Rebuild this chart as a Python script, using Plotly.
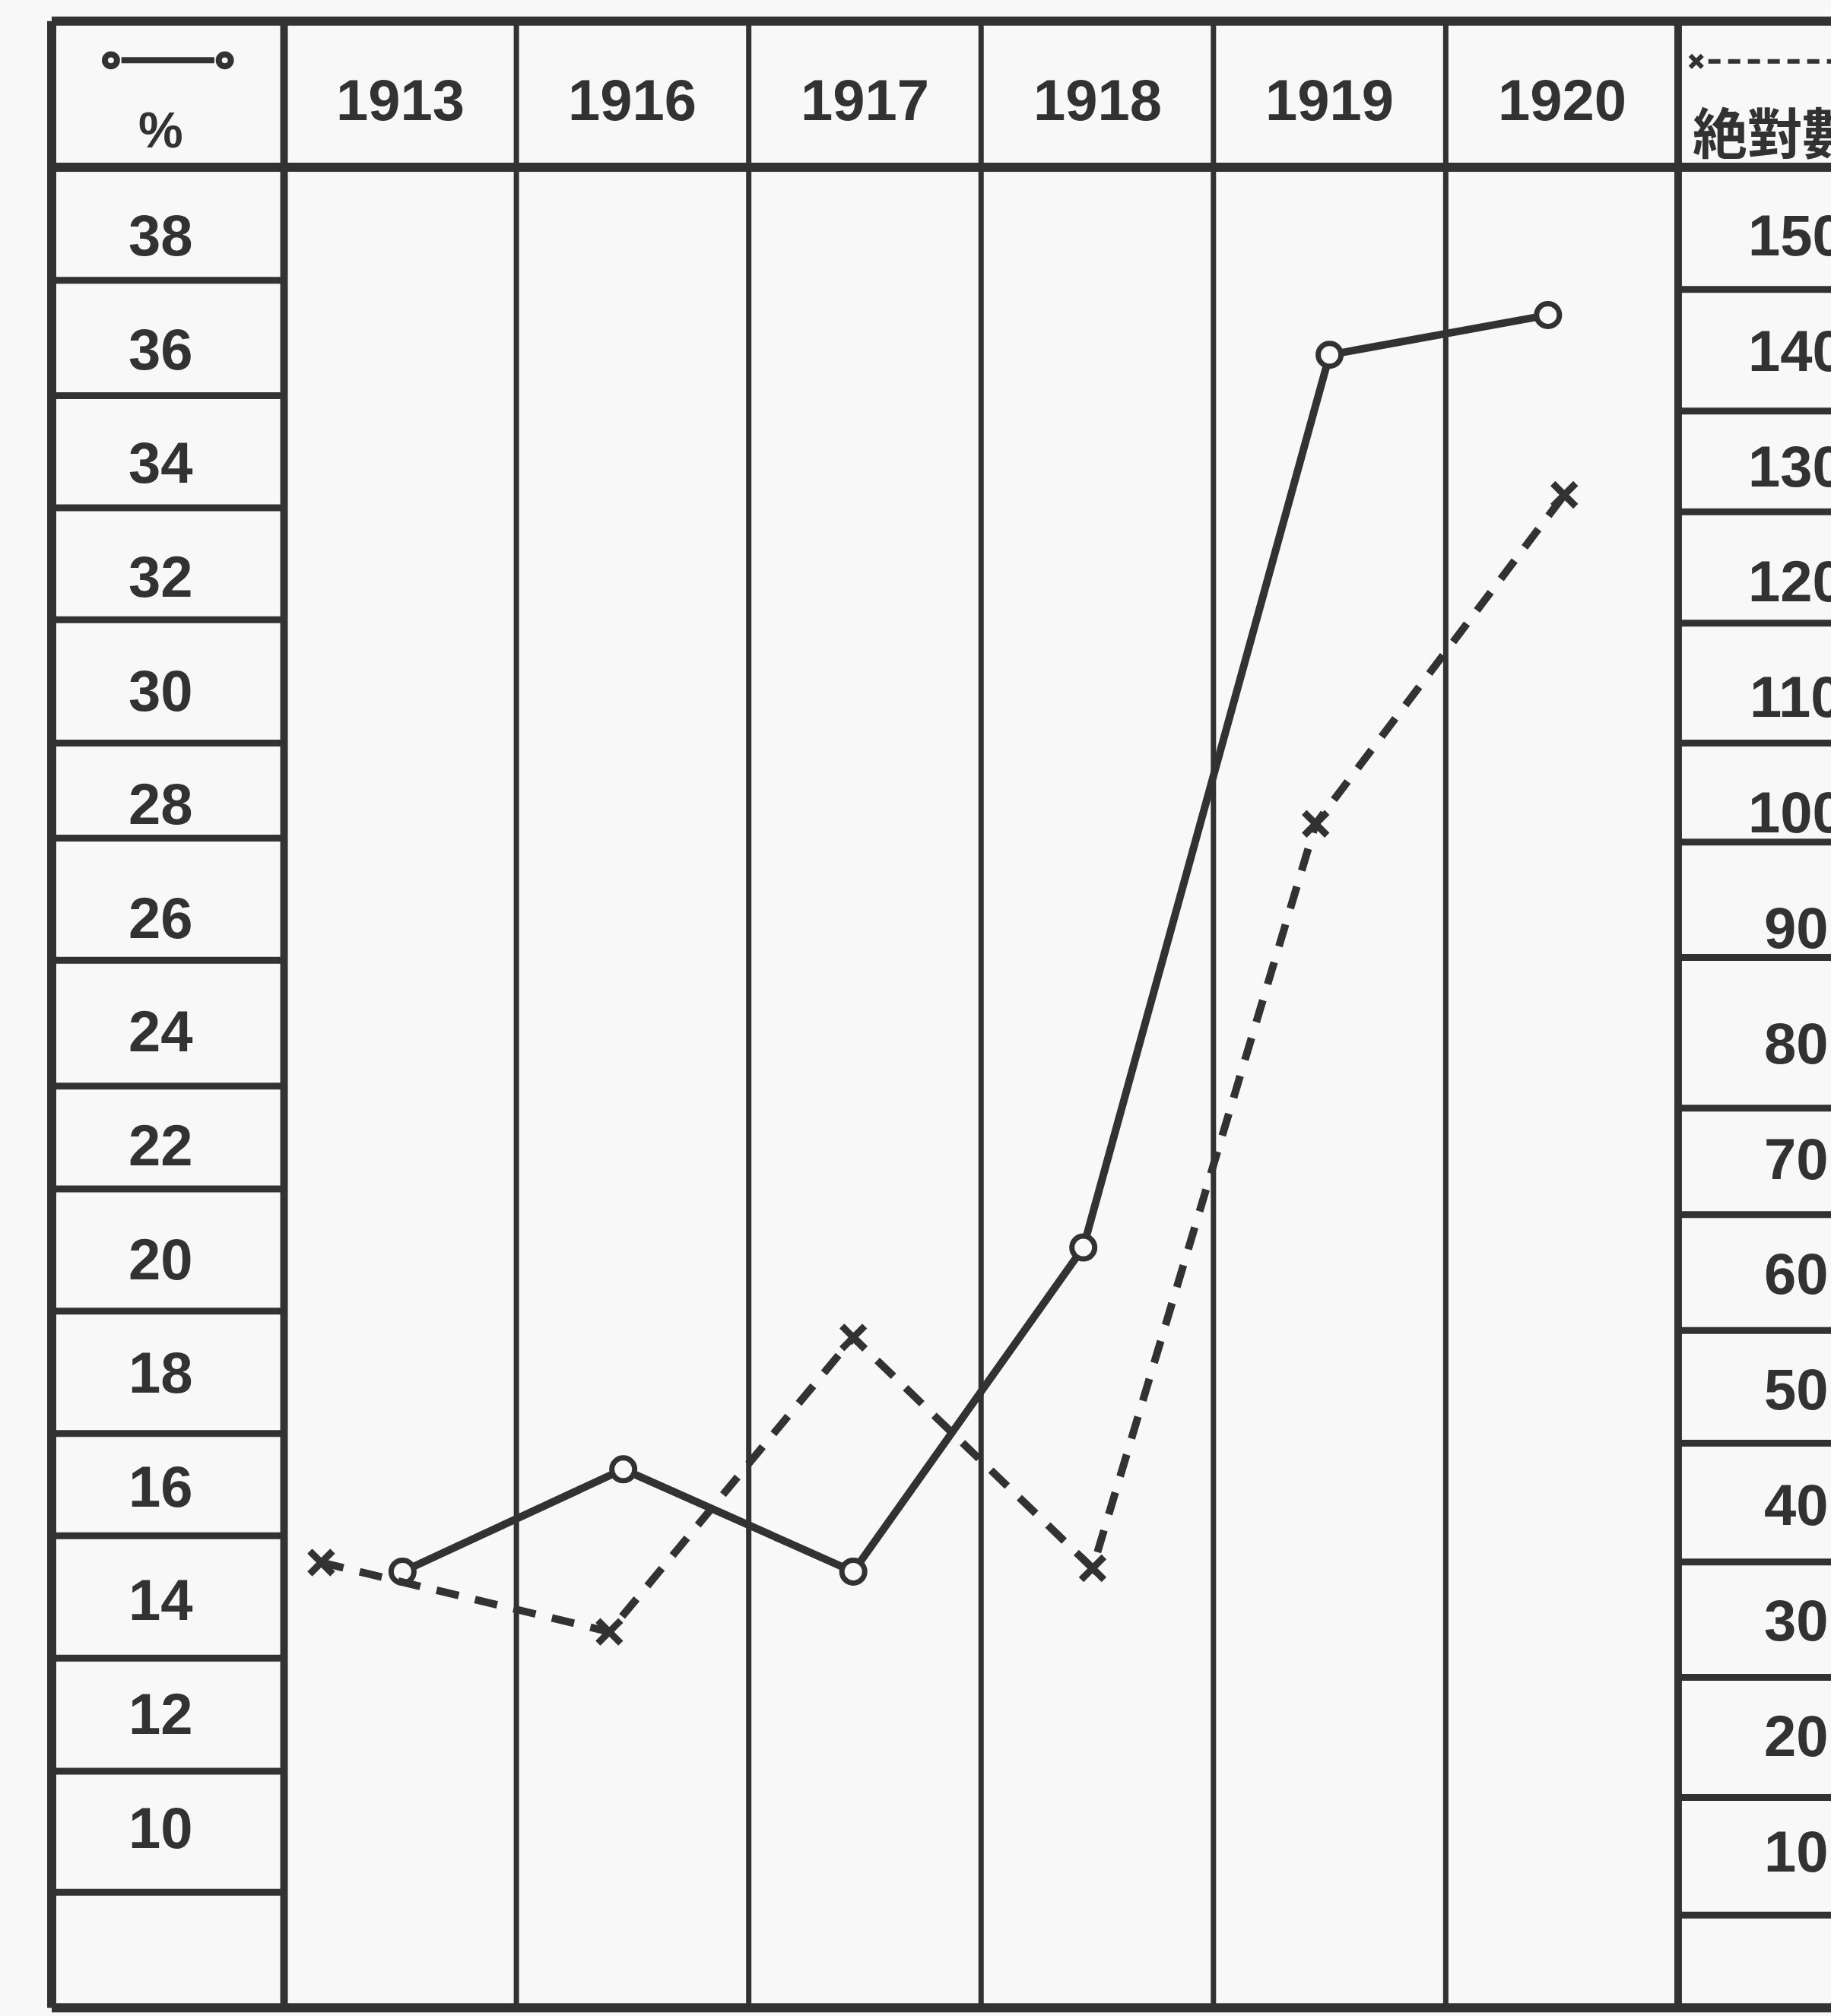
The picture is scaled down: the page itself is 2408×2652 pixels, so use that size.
import plotly.graph_objects as go

# ---------------- data ----------------
years = ["1913", "1916", "1917", "1918", "1919", "1920"]
pct_values = [14.5, 16.3, 14.5, 20.2, 35.9, 36.6]          # solid line, left scale (%)
abs_values = [35, 29, 54.5, 34.5, 99, 127.5]               # dashed line, right scale (absolute)
pct_ticks = [38, 36, 34, 32, 30, 28, 26, 24, 22, 20, 18, 16, 14, 12, 10]
abs_ticks = [150, 140, 130, 120, 110, 100, 90, 80, 70, 60, 50, 40, 30, 20, 10]
pct_header = "%"
abs_header = "絶對數"

# ---------------- style ----------------
INK = "#323232"
BG = "#f8f8f8"
NUM_FONT = "Liberation Sans"
CJK_FONT = "Noto Sans CJK JP"
# small horizontal nudges of the hand-plotted marks inside each year column
pct_nudge = [0.01, -0.04, -0.05, -0.06, 0.0, -0.06]
abs_nudge = [-0.34, -0.10, -0.05, -0.02, -0.06, 0.01]

X_RANGE = [-1.7225, 6.158]
Y_RANGE = [6.685, 42.14]
Y2_RANGE = [-4.29, 170.38]

# table frame (in axis units)
LEFT, DIV_L, DIV_R, FAR = -1.5, -0.5, len(years) - 0.5, 6.4
TOP, HEAD, BOTTOM = 41.77, 39.2, 6.83
left_rules = [37.21, 35.18, 33.21, 31.24, 29.07, 27.40, 25.25, 23.04, 21.23,
              19.08, 16.93, 15.13, 12.98, 10.99, 8.86]
right_rules = [37.05, 34.91, 33.14, 31.18, 29.07, 27.33, 25.30, 22.65, 20.78,
               18.74, 16.76, 14.67, 12.64, 10.53, 8.46]

idx = list(range(len(years)))
pct_x = [i + d for i, d in zip(idx, pct_nudge)]
abs_x = [i + d for i, d in zip(idx, abs_nudge)]

fig = go.Figure()

fig.add_trace(go.Scatter(
    x=abs_x, y=abs_values, yaxis="y2", mode="lines+markers",
    line=dict(color=INK, width=10, dash="30px,22px"),
    marker=dict(symbol="x-thin", size=30, color=INK, line=dict(color=INK, width=9)),
    cliponaxis=False, hoverinfo="skip",
))
fig.add_trace(go.Scatter(
    x=pct_x, y=pct_values, mode="lines+markers",
    line=dict(color=INK, width=10),
    marker=dict(symbol="circle", size=30, color=BG, line=dict(color=INK, width=7)),
    cliponaxis=False, hoverinfo="skip",
))

shapes = []


def hline(y, x0, x1, w):
    shapes.append(dict(type="line", xref="x", yref="y", x0=x0, x1=x1, y0=y, y1=y,
                       line=dict(color=INK, width=w), layer="below"))


def vline(x, y0, y1, w):
    shapes.append(dict(type="line", xref="x", yref="y", x0=x, x1=x, y0=y0, y1=y1,
                       line=dict(color=INK, width=w), layer="below"))


# outer frame and header rule
hline(TOP, LEFT, FAR, 12)
hline(HEAD, LEFT, FAR, 12)
hline(BOTTOM, LEFT, FAR, 12)
vline(LEFT, BOTTOM, TOP, 12)
vline(DIV_L, BOTTOM, TOP, 10)
vline(DIV_R, BOTTOM, TOP, 10)
for k in range(1, len(years)):
    vline(k - 0.5, BOTTOM, TOP, 7)
for r in left_rules:
    hline(r, LEFT, DIV_L, 9)
for r in right_rules:
    hline(r, DIV_R, FAR, 9)

# legend key, left header: o---o
ky = 41.08
shapes.append(dict(type="line", xref="x", yref="y", x0=-1.2, x1=-0.8, y0=ky, y1=ky,
                   line=dict(color=INK, width=8), layer="below"))
for cx in (-1.245, -0.755):
    shapes.append(dict(type="circle", xref="x", yref="y",
                       x0=cx - 0.026, x1=cx + 0.026, y0=ky - 0.105, y1=ky + 0.105,
                       fillcolor=BG, line=dict(color=INK, width=8), layer="below"))
# legend key, right header: x-----
kx, ky2, dx, dy = 5.578, 41.06, 0.026, 0.105
shapes.append(dict(type="path", xref="x", yref="y",
                   path=f"M {kx-dx},{ky2-dy} L {kx+dx},{ky2+dy} M {kx-dx},{ky2+dy} L {kx+dx},{ky2-dy}",
                   line=dict(color=INK, width=6), layer="below"))
shapes.append(dict(type="line", xref="x", yref="y", x0=5.63, x1=FAR, y0=ky2, y1=ky2,
                   line=dict(color=INK, width=6, dash="16px,10px"), layer="below"))

annotations = []
for i, yr in enumerate(years):
    annotations.append(dict(x=i, y=40.38, xref="x", yref="y", text=f"<b>{yr}</b>",
                            showarrow=False, xanchor="center", yanchor="middle",
                            font=dict(family=NUM_FONT, size=76, color=INK)))
for v in pct_ticks:
    annotations.append(dict(x=-1.03, y=v, xref="x", yref="y", text=f"<b>{v}</b>",
                            showarrow=False, xanchor="center", yanchor="middle",
                            font=dict(family=NUM_FONT, size=76, color=INK)))
for v in abs_ticks:
    annotations.append(dict(x=6.01, y=v, xref="x", yref="y2", text=f"<b>{v}</b>",
                            showarrow=False, xanchor="center", yanchor="middle",
                            font=dict(family=NUM_FONT, size=76, color=INK)))
annotations.append(dict(x=-1.03, y=39.86, xref="x", yref="y", text=f"<b>{pct_header}</b>",
                        showarrow=False, xanchor="center", yanchor="middle",
                        font=dict(family=NUM_FONT, size=66, color=INK)))
annotations.append(dict(x=5.555, y=39.86, xref="x", yref="y", text=f"<b>{abs_header}</b>",
                        showarrow=False, xanchor="left", yanchor="middle",
                        font=dict(family=CJK_FONT, size=72, color=INK)))

fig.update_layout(
    width=2408, height=2652, autosize=False,
    margin=dict(l=0, r=0, t=0, b=0, pad=0),
    paper_bgcolor=BG, plot_bgcolor=BG,
    showlegend=False,
    xaxis=dict(range=X_RANGE, visible=False, showgrid=False, zeroline=False, fixedrange=True),
    yaxis=dict(range=Y_RANGE, visible=False, showgrid=False, zeroline=False, fixedrange=True),
    yaxis2=dict(range=Y2_RANGE, overlaying="y", visible=False, showgrid=False,
                zeroline=False, fixedrange=True),
    shapes=shapes,
    annotations=annotations,
)

fig.write_html("out.html", config={"displayModeBar": False, "staticPlot": True},
               post_script="document.body.style.margin='0px';document.body.style.overflow='hidden';")
